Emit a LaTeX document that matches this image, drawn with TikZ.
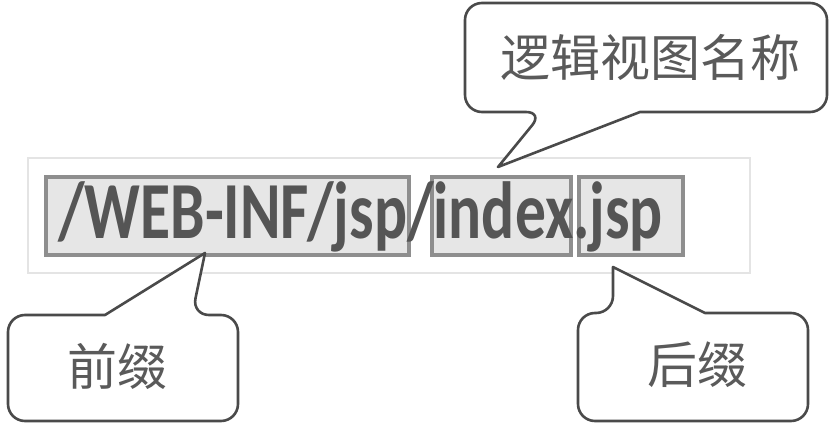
\documentclass[tikz,border=0pt]{standalone}
\usepackage{fontspec}
\newfontfamily\cjk{Noto Sans CJK SC}
\newfontfamily\codefont[FakeStretch=0.76]{Carlito}
\definecolor{boxline}{HTML}{8E8E8E}
\definecolor{boxfill}{HTML}{E6E6E6}
\definecolor{codetext}{HTML}{555555}
\definecolor{calloutline}{HTML}{4A4A4A}
\definecolor{callouttext}{HTML}{5A5A5A}
\definecolor{faint}{HTML}{E4E4E4}
\tikzset{
  partbox/.style={draw=boxline, fill=boxfill, line width=4.5pt, inner sep=0pt},
  calloutpath/.style={draw=calloutline, fill=white, line width=2.6pt, line join=round},
  callouttxt/.style={text=callouttext, font=\cjk\fontsize{50}{50}\selectfont, inner sep=0pt},
}
\begin{document}
\begin{tikzpicture}[x=1pt,y=-1pt]
\useasboundingbox (0,0) rectangle (835,427);
% faint strip behind the path
\node[draw=faint, line width=1.2pt, fill=white, minimum width=722pt, minimum height=115pt, inner sep=0pt] (strip) at (389,215.5) {};
% the three parts
\node[partbox, minimum width=363pt, minimum height=78pt] (pre) at (227.5,216) {};
\node[partbox, minimum width=139pt, minimum height=78pt] (name) at (501.5,216) {};
\node[partbox, minimum width=104pt, minimum height=78pt] (suf) at (631,216) {};
% the path text
\node[anchor=base west, inner sep=0pt, text=codetext, font=\codefont\bfseries\fontsize{81}{81}\selectfont] (path) at (58,239) {/WEB-INF/jsp/index.jsp};
% pointer tips
\coordinate (tiptop) at (498,167);
\coordinate (tipleft) at (205,253);
\coordinate (tipright) at (613,267);
% top callout
\draw[calloutpath] (700,112) [rounded corners=17pt] -- (827,112) -- (827,3) -- (465,3) -- (465,112) -- (543,112) [sharp corners] -- (tiptop) -- (640,112) -- cycle;
\node[callouttxt] (lvn) at (650,57) {逻辑视图名称};
% left callout
\draw[calloutpath] (60,315) [rounded corners=17pt] -- (8,315) -- (8,421) -- (238,421) -- (238,315) -- (192,315) [sharp corners] -- (tipleft) -- (105,315) -- cycle;
\node[callouttxt] (pfx) at (117,366) {前缀};
% right callout
\draw[calloutpath] (760,313) [rounded corners=17pt] -- (808,313) -- (808,421) -- (578,421) -- (578,313) -- (613,313) [sharp corners] -- (tipright) -- (705,313) -- cycle;
\node[callouttxt] (sfx) at (697,365) {后缀};
\end{tikzpicture}
\end{document}
